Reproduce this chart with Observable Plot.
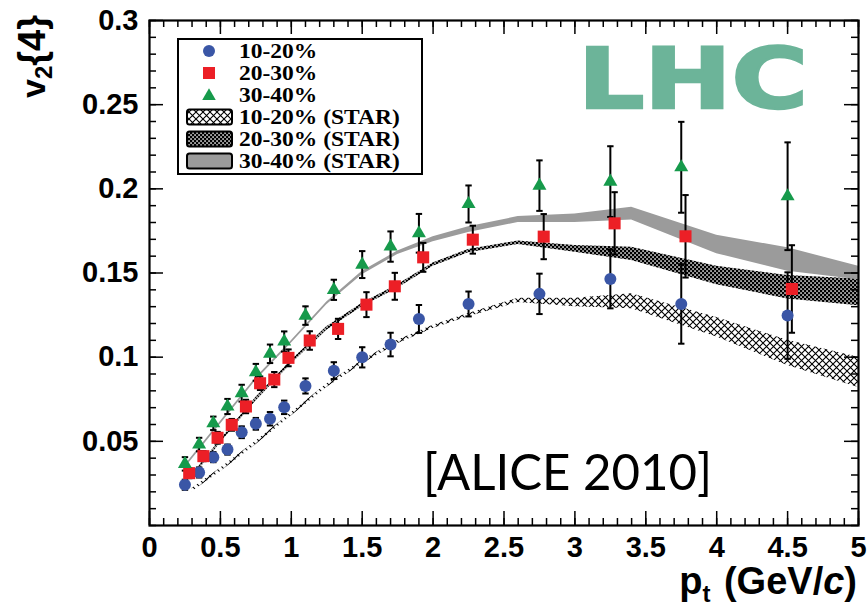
<!DOCTYPE html>
<html>
<head>
<meta charset="utf-8">
<script src="https://cdn.jsdelivr.net/npm/d3@7"></script>
<script src="https://cdn.jsdelivr.net/npm/@observablehq/plot@0.6"></script>
<style>
  body { margin: 0; background: #fff; }
  #chart { width: 867px; height: 610px; }
</style>
</head>
<body>
<div id="chart"></div>
<script>
// ALICE v2{4} vs pt, three centrality classes
const ptBins = [0.25, 0.35, 0.45, 0.55, 0.65, 0.75, 0.85, 0.95, 1.1, 1.3, 1.5, 1.7, 1.9, 2.25, 2.75, 3.25, 3.75, 4.5];
// 20-30% points are drawn slightly shifted in pt
const ptBinsShifted = [0.28, 0.38, 0.48, 0.58, 0.68, 0.78, 0.88, 0.98, 1.13, 1.33, 1.53, 1.73, 1.93, 2.28, 2.78, 3.28, 3.78, 4.53];

const v2_1020 = [0.0242, 0.0315, 0.0406, 0.0451, 0.0554, 0.0604, 0.0634, 0.0702, 0.0829, 0.0920, 0.0999, 0.1075, 0.1227, 0.1316, 0.1376, 0.1465, 0.1316, 0.1247];
const err_1020 = [0.003, 0.003, 0.003, 0.003, 0.0035, 0.0035, 0.004, 0.004, 0.0045, 0.005, 0.006, 0.007, 0.0083, 0.0074, 0.012, 0.0175, 0.0236, 0.0257];

const v2_2030 = [0.0311, 0.0412, 0.0521, 0.0598, 0.0707, 0.0845, 0.0867, 0.0996, 0.1099, 0.1168, 0.1312, 0.1421, 0.1593, 0.1698, 0.1716, 0.1795, 0.1718, 0.1405];
const err_2030 = [0.003, 0.003, 0.0035, 0.0035, 0.004, 0.004, 0.0045, 0.005, 0.0055, 0.006, 0.0074, 0.008, 0.0086, 0.0083, 0.0134, 0.0185, 0.0245, 0.026];

const v2_3040 = [0.0366, 0.0481, 0.0607, 0.0707, 0.0786, 0.0910, 0.1020, 0.1093, 0.1247, 0.1400, 0.1550, 0.1657, 0.1736, 0.1910, 0.2019, 0.2043, 0.2128, 0.1956];
const err_3040 = [0.004, 0.004, 0.004, 0.0045, 0.005, 0.005, 0.0055, 0.006, 0.0055, 0.006, 0.008, 0.009, 0.0115, 0.011, 0.015, 0.021, 0.027, 0.032];

// STAR v2{4} bands (lower / upper edge)
const starPt = [0.3, 0.5, 0.75, 1.0, 1.25, 1.5, 1.75, 2.0, 2.25, 2.6, 3.0, 3.4, 4.0, 4.5, 5.0];
const star1020Lo = [0.020, 0.032, 0.048, 0.065, 0.082, 0.096, 0.108, 0.117, 0.124, 0.1325, 0.130, 0.1287, 0.112, 0.095, 0.082];
const star1020Hi = [0.022, 0.034, 0.050, 0.067, 0.084, 0.098, 0.110, 0.119, 0.126, 0.135, 0.135, 0.1376, 0.1235, 0.110, 0.100];
const star2030Lo = [0.028, 0.049, 0.074, 0.096, 0.116, 0.130, 0.141, 0.154, 0.162, 0.167, 0.1623, 0.1574, 0.143, 0.1346, 0.1306];
const star2030Hi = [0.030, 0.051, 0.076, 0.098, 0.118, 0.132, 0.143, 0.156, 0.164, 0.169, 0.1663, 0.1653, 0.154, 0.1485, 0.1465];
const star3040Pt = [0.25, 0.5, 0.75, 1.0, 1.25, 1.5, 1.75, 2.0, 2.25, 2.6, 3.0, 3.4, 4.0, 4.5, 5.0];
const star3040Lo = [0.0342, 0.0602, 0.0862, 0.1082, 0.1312, 0.149, 0.161, 0.1685, 0.174, 0.180, 0.180, 0.1815, 0.1615, 0.151, 0.146];
const star3040Hi = [0.0358, 0.0618, 0.0878, 0.1098, 0.1328, 0.151, 0.163, 0.1715, 0.1775, 0.1835, 0.185, 0.189, 0.1725, 0.165, 0.154];

// axis ticks and labels
const xMajor = [0, 0.5, 1, 1.5, 2, 2.5, 3, 3.5, 4, 4.5, 5];
const xTickLabels = ["0", "0.5", "1", "1.5", "2", "2.5", "3", "3.5", "4", "4.5", "5"];
const yMajor = [0.05, 0.1, 0.15, 0.2, 0.25, 0.3];
const yTickLabels = ["0.05", "0.1", "0.15", "0.2", "0.25", "0.3"];
const xMinor = d3.range(0, 51).map(i => i / 10);
const yMinor = d3.range(0, 31).map(i => i / 100);

const legendLabels = ["10-20%", "20-30%", "30-40%", "10-20% (STAR)", "20-30% (STAR)", "30-40% (STAR)"];

const colors = {blue: "#3a56a6", red: "#ec1f26", green: "#169a4b", gray: "#9b9b9b", lhc: "#6cb499"};

const rows = (pt, v, e) => pt.map((x, i) => ({pt: x, v: v[i], lo: v[i] - e[i], hi: v[i] + e[i]}));
const band = (pt, lo, hi) => pt.map((x, i) => ({pt: x, lo: lo[i], hi: hi[i]}));

const d1020 = rows(ptBins, v2_1020, err_1020);
const d2030 = rows(ptBinsShifted, v2_2030, err_2030);
const d3040 = rows(ptBins, v2_3040, err_3040);
const s1020 = band(starPt, star1020Lo, star1020Hi);
const s2030 = band(starPt, star2030Lo, star2030Hi);
const s3040 = band(star3040Pt, star3040Lo, star3040Hi);

const W = 867, H = 610, mL = 149, mR = 9, mT = 20, mB = 85;
const innerW = W - mL - mR, innerH = H - mT - mB;
const tickLong = 14, tickShort = 7;

// horizontal cap for error bars
const capSymbol = {
  draw(ctx, size) {
    const w = Math.sqrt(size / Math.PI);
    ctx.moveTo(-w, 0);
    ctx.lineTo(w, 0);
  }
};

const errorMarks = (data) => [
  Plot.ruleX(data, {x: "pt", y1: "lo", y2: "hi", stroke: "black", strokeWidth: 2}),
  Plot.dot(data, {x: "pt", y: "lo", symbol: capSymbol, r: 3.2, stroke: "black", strokeWidth: 2, fill: "none"}),
  Plot.dot(data, {x: "pt", y: "hi", symbol: capSymbol, r: 3.2, stroke: "black", strokeWidth: 2, fill: "none"})
];

const xLabelOf = new Map(xMajor.map((d, i) => [d, xTickLabels[i]]));
const yLabelOf = new Map(yMajor.map((d, i) => [d, yTickLabels[i]]));

const chart = Plot.plot({
  width: W,
  height: H,
  marginLeft: mL,
  marginRight: mR,
  marginTop: mT,
  marginBottom: mB,
  x: {domain: [0, 5]},
  y: {domain: [0, 0.3]},
  style: {fontFamily: "'Liberation Sans', Arial, sans-serif", background: "white", overflow: "visible"},
  marks: [
    // STAR bands
    Plot.areaY(s1020, {x: "pt", y1: "lo", y2: "hi", fill: "url(#pat-cross)"}),
    Plot.areaY(s2030, {x: "pt", y1: "lo", y2: "hi", fill: "url(#pat-mesh)"}),
    Plot.areaY(s3040, {x: "pt", y1: "lo", y2: "hi", fill: colors.gray}),
    // ALICE error bars
    ...errorMarks(d1020),
    ...errorMarks(d2030),
    ...errorMarks(d3040),
    // ALICE markers
    Plot.dot(d1020, {x: "pt", y: "v", symbol: "circle", r: 6, fill: colors.blue}),
    Plot.dot(d2030, {x: "pt", y: "v", symbol: "square", r: 6.8, fill: colors.red}),
    Plot.dot(d3040, {x: "pt", y: "v", symbol: "triangle", r: 5.2, fill: colors.green}),
    // inward ticks on all four sides
    Plot.tickX(xMinor, {x: d => d, insetTop: innerH - tickShort, strokeWidth: 1.5}),
    Plot.tickX(xMajor, {x: d => d, insetTop: innerH - tickLong, strokeWidth: 1.5}),
    Plot.tickX(xMinor, {x: d => d, insetBottom: innerH - tickShort, strokeWidth: 1.5}),
    Plot.tickX(xMajor, {x: d => d, insetBottom: innerH - tickLong, strokeWidth: 1.5}),
    Plot.tickY(yMinor, {y: d => d, insetRight: innerW - tickShort, strokeWidth: 1.5}),
    Plot.tickY(yMajor, {y: d => d, insetRight: innerW - tickLong, strokeWidth: 1.5}),
    Plot.tickY(yMinor, {y: d => d, insetLeft: innerW - tickShort, strokeWidth: 1.5}),
    Plot.tickY(yMajor, {y: d => d, insetLeft: innerW - tickLong, strokeWidth: 1.5}),
    Plot.frame({stroke: "black", strokeWidth: 2.2}),
    Plot.axisX({ticks: xMajor, tickSize: 0, tickPadding: 11, tickFormat: d => xLabelOf.get(d), fontSize: 29, fontWeight: "bold", label: null}),
    Plot.axisY({ticks: yMajor, tickSize: 0, tickPadding: 11, tickFormat: d => yLabelOf.get(d), fontSize: 29, fontWeight: "bold", label: null})
  ]
});

document.getElementById("chart").appendChild(chart);

const svg = d3.select(chart);
const defs = svg.insert("defs", ":first-child");

// diamond cross-hatch
const cross = defs.append("pattern").attr("id", "pat-cross").attr("patternUnits", "userSpaceOnUse")
  .attr("width", 7).attr("height", 7);
cross.append("path").attr("d", "M0,0L7,7M7,0L0,7").attr("stroke", "black").attr("stroke-width", 1.1).attr("fill", "none");

// small checkered mesh
const mesh = defs.append("pattern").attr("id", "pat-mesh").attr("patternUnits", "userSpaceOnUse")
  .attr("width", 4).attr("height", 4);
mesh.append("rect").attr("width", 4).attr("height", 4).attr("fill", "black");
mesh.append("rect").attr("x", 0.3).attr("y", 0.3).attr("width", 1.5).attr("height", 1.5).attr("fill", "white");
mesh.append("rect").attr("x", 2.3).attr("y", 2.3).attr("width", 1.5).attr("height", 1.5).attr("fill", "white");

// legend
const lg = svg.append("g").attr("text-anchor", "start");
lg.append("rect").attr("x", 178).attr("y", 39).attr("width", 244).attr("height", 135)
  .attr("fill", "white").attr("stroke", "black").attr("stroke-width", 2);
const rowY = i => 51 + i * 22;
const symX = 209;
lg.append("circle").attr("cx", symX).attr("cy", rowY(0)).attr("r", 6).attr("fill", colors.blue);
lg.append("rect").attr("x", symX - 6).attr("y", rowY(1) - 6).attr("width", 12).attr("height", 12).attr("fill", colors.red);
lg.append("path").attr("d", d3.symbol(d3.symbolTriangle, 80)()).attr("transform", `translate(${symX},${rowY(2) + 1})`).attr("fill", colors.green);
const swatchFill = ["url(#pat-cross)", "url(#pat-mesh)", colors.gray];
swatchFill.forEach((f, k) => {
  lg.append("rect").attr("x", 187).attr("y", rowY(3 + k) - 7.5).attr("width", 45).attr("height", 15)
    .attr("rx", 2.5).attr("fill", f).attr("stroke", "black").attr("stroke-width", 2);
});
legendLabels.forEach((lab, i) => {
  lg.append("text").attr("transform", `translate(239,${rowY(i) + 7}) scale(1.12,1)`).attr("text-anchor", "start")
    .attr("font-family", "'Liberation Serif', 'Times New Roman', serif")
    .attr("font-weight", "bold").attr("font-size", 21).attr("fill", "black")
    .text(lab);
});

// LHC logo text
svg.append("text").attr("x", 578).attr("y", 108).attr("text-anchor", "start").text("LHC")
  .attr("font-family", "'DejaVu Sans', sans-serif").attr("font-weight", "bold").attr("font-size", 84)
  .attr("fill", colors.lhc).attr("stroke", colors.lhc).attr("stroke-width", 2.5)
  .attr("textLength", 230).attr("lengthAdjust", "spacingAndGlyphs");

// reference tag
svg.append("text").attr("x", 423).attr("y", 490).attr("text-anchor", "start").text("[ALICE 2010]")
  .attr("font-family", "Lato, 'Open Sans', sans-serif").attr("font-size", 50)
  .attr("fill", "black").attr("textLength", 289).attr("lengthAdjust", "spacingAndGlyphs");

// axis titles
const yt = svg.append("text").attr("transform", "translate(45,15) rotate(-90)")
  .attr("text-anchor", "end").attr("font-weight", "bold").attr("font-size", 34).attr("fill", "black");
yt.append("tspan").text("v");
yt.append("tspan").attr("font-size", 24).attr("dy", 7).text("2");
yt.append("tspan").attr("dy", -7).attr("font-size", 38).text("{4}");

const xt = svg.append("text").attr("x", 857).attr("y", 594)
  .attr("text-anchor", "end").attr("font-weight", "bold").attr("font-size", 38).attr("fill", "black");
xt.append("tspan").text("p");
xt.append("tspan").attr("font-size", 24).attr("dy", 8).text("t");
xt.append("tspan").attr("dy", -8).attr("dx", 3).text(" (GeV/");
xt.append("tspan").attr("font-style", "italic").text("c");
xt.append("tspan").text(")");
</script>
</body>
</html>
